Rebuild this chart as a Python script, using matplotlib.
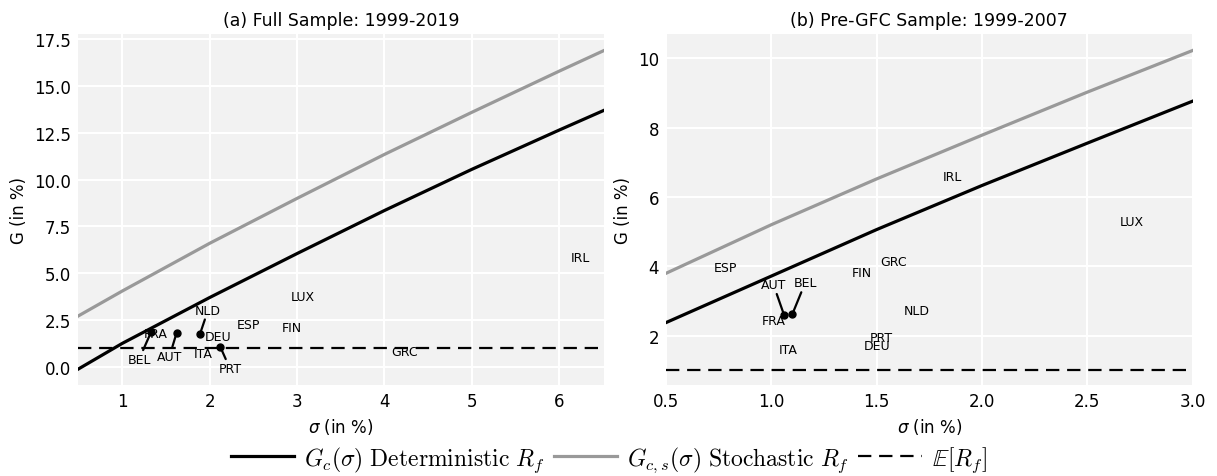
import numpy as np
import matplotlib.pyplot as plt
from matplotlib.font_manager import FontProperties

# panel (a) full sample 1999-2019
sig_a = [0.49, 1.0, 2.0, 3.0, 4.0, 5.0, 6.0, 6.52]
gdet_a = [-0.14, 1.25, 3.70, 6.05, 8.35, 10.55, 12.65, 13.72]
gsto_a = [2.70, 4.05, 6.60, 9.00, 11.35, 13.60, 15.80, 16.92]

# panel (b) pre-GFC 1999-2007
sig_b = [0.5, 1.0, 1.5, 2.0, 2.5, 3.0]
gdet_b = [2.38, 3.72, 5.06, 6.33, 7.55, 8.76]
gsto_b = [3.80, 5.20, 6.52, 7.78, 9.02, 10.22]

rf_mean = 1.0

# labels: name, text x, text y
labels_a = [("FRA", 1.38, 1.77), ("DEU", 2.09, 1.64), ("ITA", 1.92, 0.70),
            ("ESP", 2.44, 2.27), ("FIN", 2.94, 2.09), ("LUX", 3.06, 3.73),
            ("GRC", 4.23, 0.80), ("IRL", 6.25, 5.84)]
# moved labels: name, point x, point y, text x, text y
moved_a = [("BEL", 1.33, 1.87, 1.19, 0.39), ("AUT", 1.62, 1.80, 1.54, 0.57),
           ("NLD", 1.89, 1.77, 1.98, 3.02), ("PRT", 2.12, 1.07, 2.23, -0.09)]

labels_b = [("ESP", 0.78, 3.96), ("FRA", 1.01, 2.43), ("ITA", 1.08, 1.60),
            ("FIN", 1.43, 3.81), ("GRC", 1.58, 4.14), ("NLD", 1.69, 2.74),
            ("PRT", 1.52, 1.95), ("DEU", 1.50, 1.73), ("IRL", 1.86, 6.60),
            ("LUX", 2.71, 5.30)]
moved_b = [("AUT", 1.06, 2.60, 1.01, 3.47), ("BEL", 1.10, 2.63, 1.16, 3.52)]

fig, axs = plt.subplots(1, 2, figsize=(12.17, 4.77), dpi=100)
fig.subplots_adjust(left=0.064, right=0.98, top=0.927, bottom=0.19, wspace=0.117)

panels = [
    (axs[0], sig_a, gdet_a, gsto_a, labels_a, moved_a, "(a) Full Sample: 1999-2019", (-1.0, 17.8)),
    (axs[1], sig_b, gdet_b, gsto_b, labels_b, moved_b, "(b) Pre-GFC Sample: 1999-2007", (0.57, 10.7)),
]

for ax, s, gd, gs, lab, mov, title, ylim in panels:
    ax.set_facecolor('#f2f2f2')
    ax.grid(True, color='white', lw=1.5)
    ax.set_axisbelow(True)
    for sp in ax.spines.values():
        sp.set_visible(False)
    ax.tick_params(length=0, labelsize=12, pad=5)
    l1, = ax.plot(s, gd, color='black', lw=2.3)
    l2, = ax.plot(s, gs, color='#999999', lw=2.3)
    l3 = ax.axhline(rf_mean, color='black', lw=1.6, dashes=(6, 3.5))
    for name, tx, ty in lab:
        ax.text(tx, ty, name, fontsize=9, ha='center', va='center')
    for name, px, py, tx, ty in mov:
        ax.plot(px, py, 'o', color='black', ms=5)
        ax.annotate(name, xy=(px, py), xytext=(tx, ty), fontsize=9,
                    ha='center', va='center',
                    arrowprops=dict(arrowstyle='-', color='black', lw=1.6,
                                    shrinkA=0, shrinkB=0))
    ax.set_xlim(s[0], s[-1])
    ax.set_ylim(*ylim)
    ax.set_title(title, fontsize=12.5)
    ax.set_xlabel(r'$\sigma$ (in %)', fontsize=12)
    ax.set_ylabel('G (in %)', fontsize=12)

axs[1].set_xticks([0.5, 1.0, 1.5, 2.0, 2.5, 3.0])

leg_font = FontProperties(size=17, math_fontfamily='cm')
fig.legend([l1, l2, l3],
           [r'$G_c(\sigma)\ \mathrm{Deterministic}\ R_f$',
            r'$G_{c,s}(\sigma)\ \mathrm{Stochastic}\ R_f$',
            r'$\mathbb{E}[R_f]$'],
           loc='lower center', ncol=3, frameon=False, prop=leg_font,
           handlelength=2.7, columnspacing=0.4, handletextpad=0.4,
           bbox_to_anchor=(0.5, -0.04))

fig.savefig('out.png', dpi=100)
